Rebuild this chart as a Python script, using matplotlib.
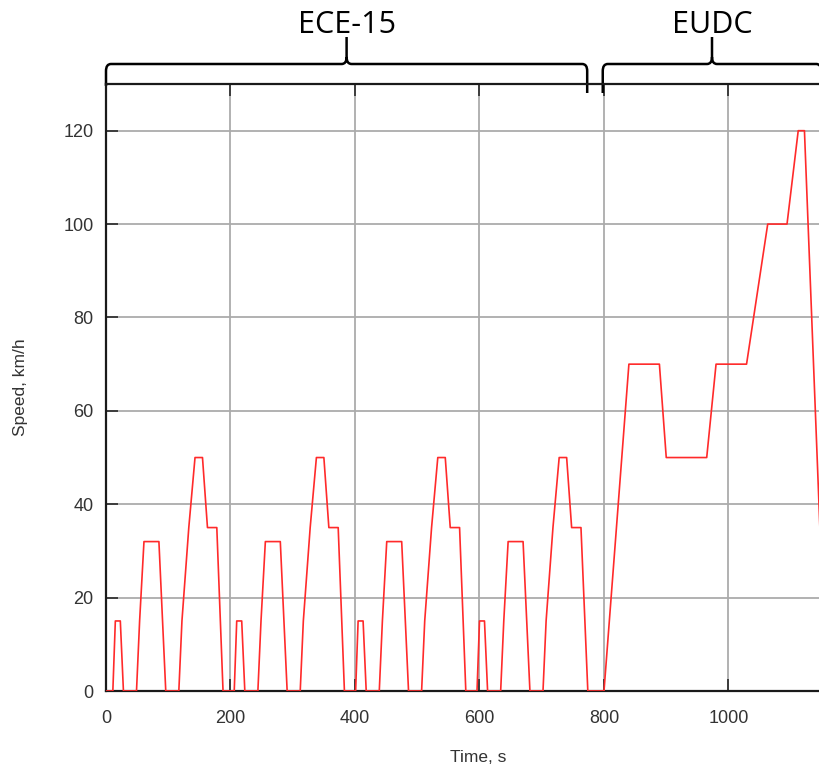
import matplotlib
matplotlib.use("Agg")
import matplotlib.pyplot as plt
from matplotlib.path import Path
from matplotlib.patches import PathPatch
import matplotlib.transforms as mtransforms

# ---- data ----
time_s = [
    # ECE-15 cycle 1
    0, 11, 15, 23, 28, 49, 54, 61, 85, 96, 117, 122, 133, 143, 155, 163, 178, 188,
    # ECE-15 cycle 2
    195, 206, 210, 218, 223, 244, 249, 256, 280, 291, 312, 317, 328, 338, 350, 358, 373, 383,
    # ECE-15 cycle 3
    390, 401, 405, 413, 418, 439, 444, 451, 475, 486, 507, 512, 523, 533, 545, 553, 568, 578,
    # ECE-15 cycle 4
    585, 596, 600, 608, 613, 634, 639, 646, 670, 681, 702, 707, 718, 728, 740, 748, 763, 774,
    # EUDC
    780, 800, 840, 889, 900, 965, 980, 1029, 1063, 1094, 1112, 1122, 1157, 1180,
]
speed_kmh = [
    0, 0, 15, 15, 0, 0, 15, 32, 32, 0, 0, 15, 35, 50, 50, 35, 35, 0,
    0, 0, 15, 15, 0, 0, 15, 32, 32, 0, 0, 15, 35, 50, 50, 35, 35, 0,
    0, 0, 15, 15, 0, 0, 15, 32, 32, 0, 0, 15, 35, 50, 50, 35, 35, 0,
    0, 0, 15, 15, 0, 0, 15, 32, 32, 0, 0, 15, 35, 50, 50, 35, 35, 0,
    0, 0, 70, 70, 50, 50, 70, 70, 100, 100, 120, 120, 0, 0,
]
x_ticks = [0, 200, 400, 600, 800, 1000]
y_ticks = [0, 20, 40, 60, 80, 100, 120]
phase_labels = ["ECE-15", "EUDC"]
phase_spans = [(0, 773), (798, 1149)]

W, H = 820, 769
fig = plt.figure(figsize=(W / 100, H / 100), dpi=100)
ax_l, ax_r, ax_t, ax_b = 106, 820, 84, 691
ax = fig.add_axes([ax_l / W, 1 - ax_b / H, (ax_r - ax_l) / W, (ax_b - ax_t) / H])

ax.plot(time_s, speed_kmh, color="#ff2a2a", lw=1.2, zorder=3)

ax.set_xlim(0, (ax_r - ax_l) / 0.6225)
ax.set_ylim(0, 130)
ax.set_xticks(x_ticks)
ax.set_yticks(y_ticks)
ax.grid(True, color="#ababab", lw=1.3, zorder=0)
ax.set_axisbelow(True)

for s in ["left", "bottom", "top"]:
    ax.spines[s].set_linewidth(1.6)
    ax.spines[s].set_color("#1a1a1a")
ax.spines["right"].set_visible(False)

font = "Liberation Sans"
ax.tick_params(axis="both", direction="in", length=8.5, width=1.3, color="#333333",
               labelsize=13, labelcolor="#333333")
ax.tick_params(axis="x", top=True, pad=14)
ax.tick_params(axis="y", pad=9)
for lab in ax.get_xticklabels() + ax.get_yticklabels():
    lab.set_fontfamily(font)

ax.set_xlabel("Time, s", fontsize=12.5, family=font, color="#333333")
ax.set_ylabel("Speed, km/h", fontsize=12.5, family=font, color="#333333")
ax.xaxis.set_label_coords((478 - ax_l) / (ax_r - ax_l), -(757 - ax_b) / (ax_b - ax_t), transform=ax.transAxes)
ax.xaxis.label.set_va("center")
ax.yaxis.set_label_coords(-(106 - 21) / (ax_r - ax_l), 0.5)
ax.yaxis.label.set_va("center")

# ---- braces above the plot ----
trans = mtransforms.blended_transform_factory(ax.transData, ax.transAxes)
ah = ax_b - ax_t


def frac(py):
    return (ax_b - py) / ah


def brace(xa, xb, y_end_a, y_end_b):
    xc = (xa + xb) / 2
    yl = frac(64)
    yt = frac(37)
    dx = 8
    dy = 7 / ah
    verts = [
        (xa, y_end_a), (xa, yl - dy), (xa, yl), (xa + dx, yl), (xc - dx, yl),
        (xc, yl), (xc, yl + dy), (xc, yt),
        (xc, yl + dy), (xc, yl), (xc + dx, yl), (xb - dx, yl), (xb, yl), (xb, yl - dy), (xb, y_end_b),
    ]
    codes = [
        Path.MOVETO, Path.LINETO, Path.CURVE3, Path.CURVE3, Path.LINETO,
        Path.CURVE3, Path.CURVE3, Path.LINETO,
        Path.MOVETO, Path.CURVE3, Path.CURVE3, Path.LINETO, Path.CURVE3, Path.CURVE3, Path.LINETO,
    ]
    p = PathPatch(Path(verts, codes), transform=trans, fill=False, lw=1.8,
                  edgecolor="black", clip_on=False, capstyle="butt", joinstyle="round")
    ax.add_patch(p)
    return xc


ends = [(frac(86), frac(93)), (frac(93), frac(93))]
for (xa, xb), (ea, eb), lab in zip(phase_spans, ends, phase_labels):
    xc = brace(xa, xb, ea, eb)
    ax.text(xc, frac(33), lab, transform=trans, ha="center", va="baseline",
            fontsize=22, family="Open Sans", color="black", clip_on=False)

fig.savefig("out.png", dpi=100)
